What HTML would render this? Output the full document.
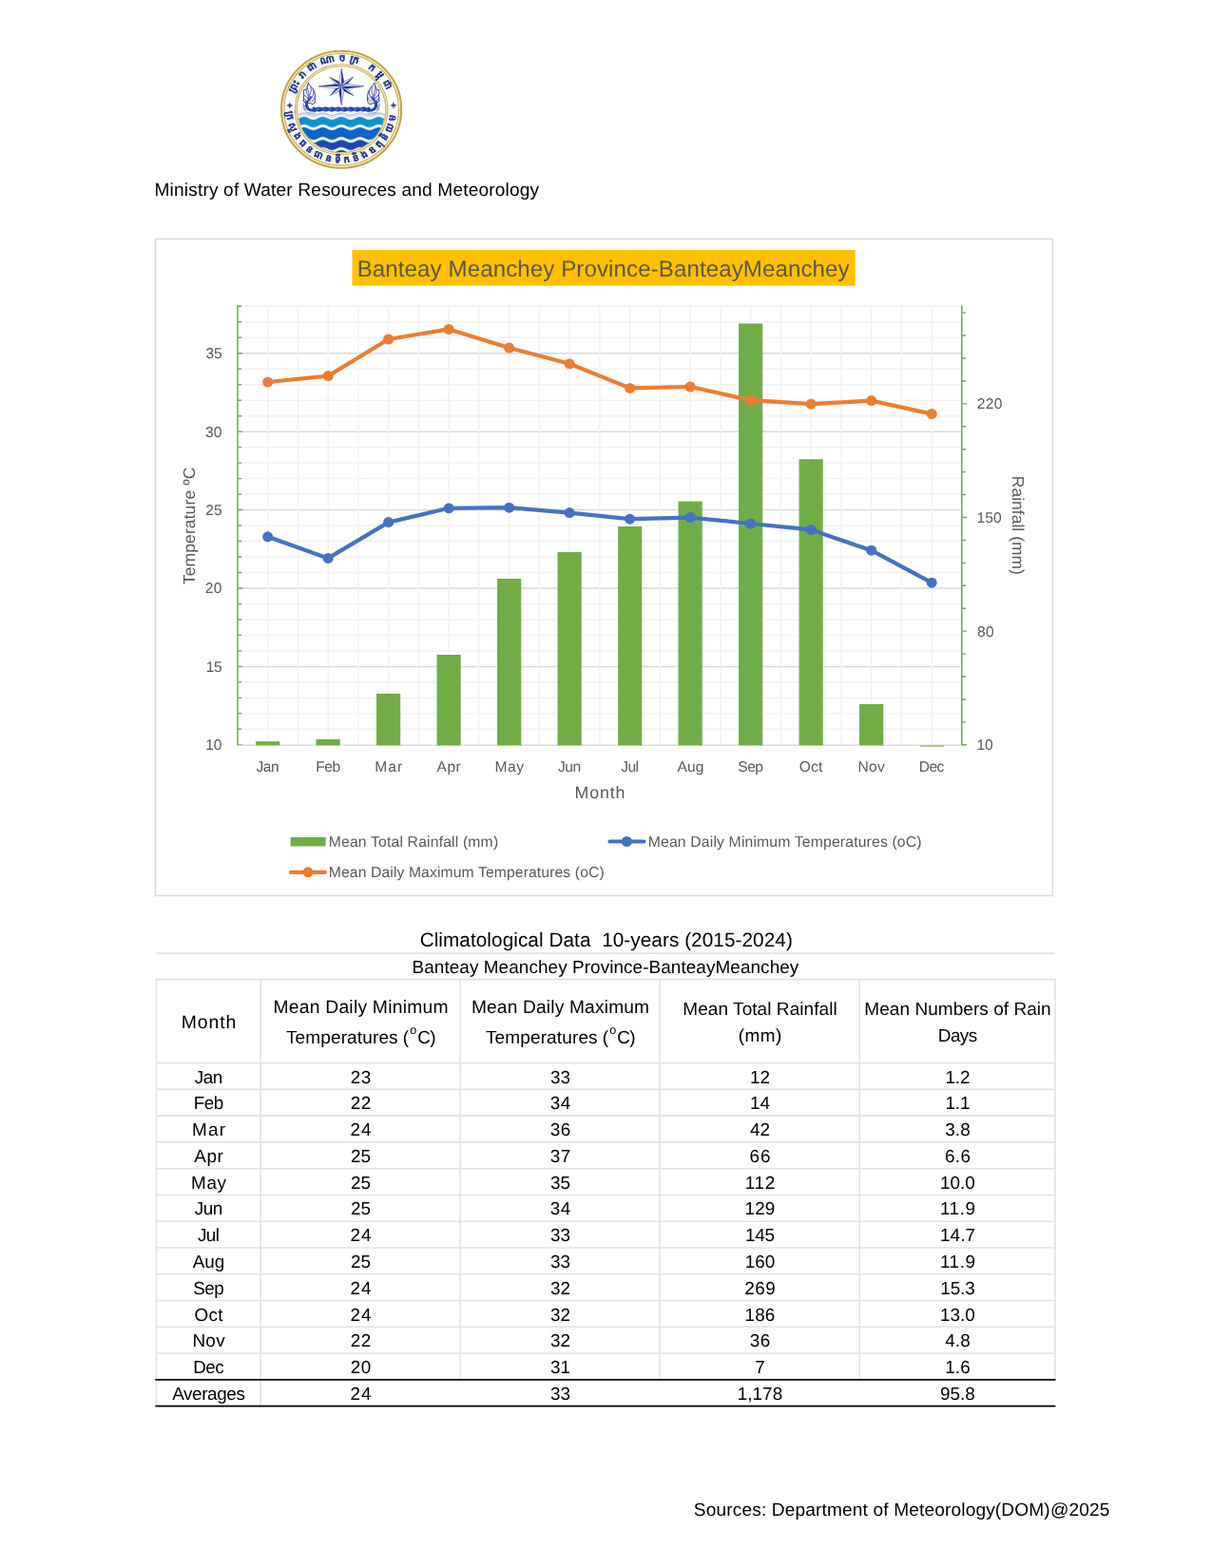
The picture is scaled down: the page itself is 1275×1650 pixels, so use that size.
<!DOCTYPE html>
<html lang="en">
<head>
<meta charset="utf-8">
<title>Climatological Data - Banteay Meanchey Province</title>
<style>
html,body{margin:0;padding:0;background:#fff;}
body{width:1275px;height:1650px;position:relative;overflow:hidden;font-family:"Liberation Sans", Arial, Helvetica, sans-serif;color:#000;text-rendering:geometricPrecision;}
.abs{position:absolute;white-space:nowrap;line-height:30px;height:30px;margin:0;font-weight:normal;}
svg{position:absolute;left:0;display:block;overflow:visible;}
svg.chart{top:230px;}
svg.grid{top:995px;}
svg text{font-family:"Liberation Sans", Arial, Helvetica, sans-serif;text-rendering:geometricPrecision;}
.tbl{position:absolute;left:164px;top:1031px;border-collapse:collapse;table-layout:fixed;width:946px;font-size:18.90px;}
.tbl th,.tbl td{padding:0 0 0 1px;margin:0;border:0;text-align:center;font-weight:normal;white-space:nowrap;vertical-align:top;}
.tbl td{line-height:27px;}
.tbl span{line-height:0;}
.tbl td span{position:relative;top:2px;}
.tbl th.h1{padding-top:32px;line-height:28px;}
.tbl th.h2{padding-top:18px;line-height:28px;}
.tbl th.h3{padding-top:14px;line-height:32px;}
.tbl .u{letter-spacing:-0.5px;margin-left:-0.3px;}
.tbl sup{font-size:12.5px;line-height:0;vertical-align:baseline;position:relative;top:-10.5px;letter-spacing:0;padding:0 0.9px 0 1.9px;}
</style>
</head>
<body>
<svg class="logo" width="150" height="150" viewBox="285 40 150 150" style="left:285px;top:40px" role="img" aria-label="Ministry of Water Resources and Meteorology emblem">
<defs>
<clipPath id="lgc"><circle cx="0" cy="0" r="44.9"/></clipPath>
<path id="lgt" d="M-50.97 -1.78A51.00 51.00 0 0 1 50.97 -1.78"/>
<path id="lgb" d="M-55.65 -7.82A56.20 56.20 0 1 0 55.65 -7.82"/>
</defs>
<g transform="translate(359.10 115.20) scale(1.026 1)">
<circle r="61.45" fill="#fff" stroke="#bfa548" stroke-width="2.1"/>
<circle r="59.7" fill="none" stroke="#f3e9a8" stroke-width="1.2"/>
<circle r="58.7" fill="none" stroke="#c5ad55" stroke-width="1.1"/>
<circle r="47.5" fill="none" stroke="#c5ad55" stroke-width="1.1"/>
<circle r="46.5" fill="none" stroke="#f3e9a8" stroke-width="0.9"/>
<circle r="45.5" fill="#fff" stroke="#c9b25c" stroke-width="1.1"/>
<g fill="#27368f" stroke="#2c3c98" stroke-width=".3" stroke-linejoin="round" font-family='"Noto Sans Khmer","Khmer","Noto Serif Khmer","Liberation Sans",sans-serif' font-size="9.7" font-weight="700">
<text letter-spacing="4.3"><textPath href="#lgt" startOffset="50%" text-anchor="middle">ព្រះរាជាណាចក្រ កម្ពុជា</textPath></text>
<text letter-spacing="3.8"><textPath href="#lgb" startOffset="50%" text-anchor="middle">ក្រសួងធនធានទឹកនិងឧតុនិយម</textPath></text>
</g>
<path d="M-53.80 -5.10l.8 -2.1 .8 2.1 2.100 .8 -2.100 .8 -.8 2.100 -.8 -2.100 -2.100 -.8z" fill="#27368f" stroke="#27368f" stroke-width=".5" stroke-linejoin="round"/>
<path d="M52.70 -5.10l.8 -2.1 .8 2.1 2.100 .8 -2.100 .8 -.8 2.100 -.8 -2.100 -2.100 -.8z" fill="#27368f" stroke="#27368f" stroke-width=".5" stroke-linejoin="round"/>
<g clip-path="url(#lgc)">
<path d="M-50.00 5.79 L-49.00 6.00 L-48.00 6.10 L-47.00 6.06 L-46.00 5.91 L-45.00 5.64 L-44.00 5.30 L-43.00 4.91 L-42.00 4.52 L-41.00 4.17 L-40.00 3.90 L-39.00 3.74 L-38.00 3.70 L-37.00 3.79 L-36.00 4.00 L-35.00 4.31 L-34.00 4.67 L-33.00 5.07 L-32.00 5.44 L-31.00 5.76 L-30.00 5.98 L-29.00 6.09 L-28.00 6.07 L-27.00 5.93 L-26.00 5.67 L-25.00 5.33 L-24.00 4.95 L-23.00 4.56 L-22.00 4.21 L-21.00 3.93 L-20.00 3.75 L-19.00 3.70 L-18.00 3.78 L-17.00 3.98 L-16.00 4.27 L-15.00 4.64 L-14.00 5.03 L-13.00 5.41 L-12.00 5.73 L-11.00 5.97 L-10.00 6.09 L-9.00 6.08 L-8.00 5.95 L-7.00 5.70 L-6.00 5.37 L-5.00 4.99 L-4.00 4.60 L-3.00 4.24 L-2.00 3.95 L-1.00 3.76 L0.00 3.70 L1.00 3.76 L2.00 3.95 L3.00 4.24 L4.00 4.60 L5.00 4.99 L6.00 5.37 L7.00 5.70 L8.00 5.95 L9.00 6.08 L10.00 6.09 L11.00 5.97 L12.00 5.73 L13.00 5.41 L14.00 5.03 L15.00 4.64 L16.00 4.27 L17.00 3.98 L18.00 3.78 L19.00 3.70 L20.00 3.75 L21.00 3.93 L22.00 4.21 L23.00 4.56 L24.00 4.95 L25.00 5.33 L26.00 5.67 L27.00 5.93 L28.00 6.07 L29.00 6.09 L30.00 5.98 L31.00 5.76 L32.00 5.44 L33.00 5.07 L34.00 4.67 L35.00 4.31 L36.00 4.00 L37.00 3.79 L38.00 3.70 L39.00 3.74 L40.00 3.90 L41.00 4.17 L42.00 4.52 L43.00 4.91 L44.00 5.30 L45.00 5.64 L46.00 5.91 L47.00 6.06 L48.00 6.10 L49.00 6.00 L50.00 5.79" fill="none" stroke="#6b7fb6" stroke-width="0.7"/>
<path d="M-50.00 7.59 L-49.00 7.80 L-48.00 7.90 L-47.00 7.86 L-46.00 7.71 L-45.00 7.44 L-44.00 7.10 L-43.00 6.71 L-42.00 6.32 L-41.00 5.97 L-40.00 5.70 L-39.00 5.54 L-38.00 5.50 L-37.00 5.59 L-36.00 5.80 L-35.00 6.11 L-34.00 6.47 L-33.00 6.87 L-32.00 7.24 L-31.00 7.56 L-30.00 7.78 L-29.00 7.89 L-28.00 7.87 L-27.00 7.73 L-26.00 7.47 L-25.00 7.13 L-24.00 6.75 L-23.00 6.36 L-22.00 6.01 L-21.00 5.73 L-20.00 5.55 L-19.00 5.50 L-18.00 5.58 L-17.00 5.78 L-16.00 6.07 L-15.00 6.44 L-14.00 6.83 L-13.00 7.21 L-12.00 7.53 L-11.00 7.77 L-10.00 7.89 L-9.00 7.88 L-8.00 7.75 L-7.00 7.50 L-6.00 7.17 L-5.00 6.79 L-4.00 6.40 L-3.00 6.04 L-2.00 5.75 L-1.00 5.56 L0.00 5.50 L1.00 5.56 L2.00 5.75 L3.00 6.04 L4.00 6.40 L5.00 6.79 L6.00 7.17 L7.00 7.50 L8.00 7.75 L9.00 7.88 L10.00 7.89 L11.00 7.77 L12.00 7.53 L13.00 7.21 L14.00 6.83 L15.00 6.44 L16.00 6.07 L17.00 5.78 L18.00 5.58 L19.00 5.50 L20.00 5.55 L21.00 5.73 L22.00 6.01 L23.00 6.36 L24.00 6.75 L25.00 7.13 L26.00 7.47 L27.00 7.73 L28.00 7.87 L29.00 7.89 L30.00 7.78 L31.00 7.56 L32.00 7.24 L33.00 6.87 L34.00 6.47 L35.00 6.11 L36.00 5.80 L37.00 5.59 L38.00 5.50 L39.00 5.54 L40.00 5.70 L41.00 5.97 L42.00 6.32 L43.00 6.71 L44.00 7.10 L45.00 7.44 L46.00 7.71 L47.00 7.86 L48.00 7.90 L49.00 7.80 L50.00 7.59" fill="none" stroke="#98a8d0" stroke-width="0.6"/>
<path d="M-50.00 10.11 L-49.00 10.37 L-48.00 10.49 L-47.00 10.45 L-46.00 10.26 L-45.00 9.93 L-44.00 9.50 L-43.00 9.01 L-42.00 8.53 L-41.00 8.09 L-40.00 7.76 L-39.00 7.55 L-38.00 7.50 L-37.00 7.62 L-36.00 7.88 L-35.00 8.26 L-34.00 8.72 L-33.00 9.21 L-32.00 9.68 L-31.00 10.07 L-30.00 10.35 L-29.00 10.49 L-28.00 10.47 L-27.00 10.28 L-26.00 9.97 L-25.00 9.54 L-24.00 9.06 L-23.00 8.57 L-22.00 8.13 L-21.00 7.78 L-20.00 7.57 L-19.00 7.50 L-18.00 7.60 L-17.00 7.84 L-16.00 8.21 L-15.00 8.67 L-14.00 9.16 L-13.00 9.63 L-12.00 10.04 L-11.00 10.33 L-10.00 10.48 L-9.00 10.48 L-8.00 10.31 L-7.00 10.00 L-6.00 9.59 L-5.00 9.11 L-4.00 8.62 L-3.00 8.17 L-2.00 7.81 L-1.00 7.58 L0.00 7.50 L1.00 7.58 L2.00 7.81 L3.00 8.17 L4.00 8.62 L5.00 9.11 L6.00 9.59 L7.00 10.00 L8.00 10.31 L9.00 10.48 L10.00 10.48 L11.00 10.33 L12.00 10.04 L13.00 9.63 L14.00 9.16 L15.00 8.67 L16.00 8.21 L17.00 7.84 L18.00 7.60 L19.00 7.50 L20.00 7.57 L21.00 7.78 L22.00 8.13 L23.00 8.57 L24.00 9.06 L25.00 9.54 L26.00 9.97 L27.00 10.28 L28.00 10.47 L29.00 10.49 L30.00 10.35 L31.00 10.07 L32.00 9.68 L33.00 9.21 L34.00 8.72 L35.00 8.26 L36.00 7.88 L37.00 7.62 L38.00 7.50 L39.00 7.55 L40.00 7.76 L41.00 8.09 L42.00 8.53 L43.00 9.01 L44.00 9.50 L45.00 9.93 L46.00 10.26 L47.00 10.45 L48.00 10.49 L49.00 10.37 L50.00 10.11 L50.00 18.61 L49.00 18.87 L48.00 18.99 L47.00 18.95 L46.00 18.76 L45.00 18.43 L44.00 18.00 L43.00 17.51 L42.00 17.03 L41.00 16.59 L40.00 16.26 L39.00 16.05 L38.00 16.00 L37.00 16.12 L36.00 16.38 L35.00 16.76 L34.00 17.22 L33.00 17.71 L32.00 18.18 L31.00 18.57 L30.00 18.85 L29.00 18.99 L28.00 18.97 L27.00 18.78 L26.00 18.47 L25.00 18.04 L24.00 17.56 L23.00 17.07 L22.00 16.63 L21.00 16.28 L20.00 16.07 L19.00 16.00 L18.00 16.10 L17.00 16.34 L16.00 16.71 L15.00 17.17 L14.00 17.66 L13.00 18.13 L12.00 18.54 L11.00 18.83 L10.00 18.98 L9.00 18.98 L8.00 18.81 L7.00 18.50 L6.00 18.09 L5.00 17.61 L4.00 17.12 L3.00 16.67 L2.00 16.31 L1.00 16.08 L0.00 16.00 L-1.00 16.08 L-2.00 16.31 L-3.00 16.67 L-4.00 17.12 L-5.00 17.61 L-6.00 18.09 L-7.00 18.50 L-8.00 18.81 L-9.00 18.98 L-10.00 18.98 L-11.00 18.83 L-12.00 18.54 L-13.00 18.13 L-14.00 17.66 L-15.00 17.17 L-16.00 16.71 L-17.00 16.34 L-18.00 16.10 L-19.00 16.00 L-20.00 16.07 L-21.00 16.28 L-22.00 16.63 L-23.00 17.07 L-24.00 17.56 L-25.00 18.04 L-26.00 18.47 L-27.00 18.78 L-28.00 18.97 L-29.00 18.99 L-30.00 18.85 L-31.00 18.57 L-32.00 18.18 L-33.00 17.71 L-34.00 17.22 L-35.00 16.76 L-36.00 16.38 L-37.00 16.12 L-38.00 16.00 L-39.00 16.05 L-40.00 16.26 L-41.00 16.59 L-42.00 17.03 L-43.00 17.51 L-44.00 18.00 L-45.00 18.43 L-46.00 18.76 L-47.00 18.95 L-48.00 18.99 L-49.00 18.87 L-50.00 18.61Z" fill="#128fd1" stroke="#c4ecfa" stroke-width=".7"/>
<path d="M-50.00 21.21 L-49.00 21.47 L-48.00 21.59 L-47.00 21.55 L-46.00 21.36 L-45.00 21.03 L-44.00 20.60 L-43.00 20.11 L-42.00 19.63 L-41.00 19.19 L-40.00 18.86 L-39.00 18.65 L-38.00 18.60 L-37.00 18.72 L-36.00 18.98 L-35.00 19.36 L-34.00 19.82 L-33.00 20.31 L-32.00 20.78 L-31.00 21.17 L-30.00 21.45 L-29.00 21.59 L-28.00 21.57 L-27.00 21.38 L-26.00 21.07 L-25.00 20.64 L-24.00 20.16 L-23.00 19.67 L-22.00 19.23 L-21.00 18.88 L-20.00 18.67 L-19.00 18.60 L-18.00 18.70 L-17.00 18.94 L-16.00 19.31 L-15.00 19.77 L-14.00 20.26 L-13.00 20.73 L-12.00 21.14 L-11.00 21.43 L-10.00 21.58 L-9.00 21.58 L-8.00 21.41 L-7.00 21.10 L-6.00 20.69 L-5.00 20.21 L-4.00 19.72 L-3.00 19.27 L-2.00 18.91 L-1.00 18.68 L0.00 18.60 L1.00 18.68 L2.00 18.91 L3.00 19.27 L4.00 19.72 L5.00 20.21 L6.00 20.69 L7.00 21.10 L8.00 21.41 L9.00 21.58 L10.00 21.58 L11.00 21.43 L12.00 21.14 L13.00 20.73 L14.00 20.26 L15.00 19.77 L16.00 19.31 L17.00 18.94 L18.00 18.70 L19.00 18.60 L20.00 18.67 L21.00 18.88 L22.00 19.23 L23.00 19.67 L24.00 20.16 L25.00 20.64 L26.00 21.07 L27.00 21.38 L28.00 21.57 L29.00 21.59 L30.00 21.45 L31.00 21.17 L32.00 20.78 L33.00 20.31 L34.00 19.82 L35.00 19.36 L36.00 18.98 L37.00 18.72 L38.00 18.60 L39.00 18.65 L40.00 18.86 L41.00 19.19 L42.00 19.63 L43.00 20.11 L44.00 20.60 L45.00 21.03 L46.00 21.36 L47.00 21.55 L48.00 21.59 L49.00 21.47 L50.00 21.21 L50.00 31.71 L49.00 31.97 L48.00 32.09 L47.00 32.05 L46.00 31.86 L45.00 31.53 L44.00 31.10 L43.00 30.61 L42.00 30.13 L41.00 29.69 L40.00 29.36 L39.00 29.15 L38.00 29.10 L37.00 29.22 L36.00 29.48 L35.00 29.86 L34.00 30.32 L33.00 30.81 L32.00 31.28 L31.00 31.67 L30.00 31.95 L29.00 32.09 L28.00 32.07 L27.00 31.88 L26.00 31.57 L25.00 31.14 L24.00 30.66 L23.00 30.17 L22.00 29.73 L21.00 29.38 L20.00 29.17 L19.00 29.10 L18.00 29.20 L17.00 29.44 L16.00 29.81 L15.00 30.27 L14.00 30.76 L13.00 31.23 L12.00 31.64 L11.00 31.93 L10.00 32.08 L9.00 32.08 L8.00 31.91 L7.00 31.60 L6.00 31.19 L5.00 30.71 L4.00 30.22 L3.00 29.77 L2.00 29.41 L1.00 29.18 L0.00 29.10 L-1.00 29.18 L-2.00 29.41 L-3.00 29.77 L-4.00 30.22 L-5.00 30.71 L-6.00 31.19 L-7.00 31.60 L-8.00 31.91 L-9.00 32.08 L-10.00 32.08 L-11.00 31.93 L-12.00 31.64 L-13.00 31.23 L-14.00 30.76 L-15.00 30.27 L-16.00 29.81 L-17.00 29.44 L-18.00 29.20 L-19.00 29.10 L-20.00 29.17 L-21.00 29.38 L-22.00 29.73 L-23.00 30.17 L-24.00 30.66 L-25.00 31.14 L-26.00 31.57 L-27.00 31.88 L-28.00 32.07 L-29.00 32.09 L-30.00 31.95 L-31.00 31.67 L-32.00 31.28 L-33.00 30.81 L-34.00 30.32 L-35.00 29.86 L-36.00 29.48 L-37.00 29.22 L-38.00 29.10 L-39.00 29.15 L-40.00 29.36 L-41.00 29.69 L-42.00 30.13 L-43.00 30.61 L-44.00 31.10 L-45.00 31.53 L-46.00 31.86 L-47.00 32.05 L-48.00 32.09 L-49.00 31.97 L-50.00 31.71Z" fill="#0e63c6" stroke="#c4ecfa" stroke-width=".7"/>
<path d="M-50.00 34.41 L-49.00 34.67 L-48.00 34.79 L-47.00 34.75 L-46.00 34.56 L-45.00 34.23 L-44.00 33.80 L-43.00 33.31 L-42.00 32.83 L-41.00 32.39 L-40.00 32.06 L-39.00 31.85 L-38.00 31.80 L-37.00 31.92 L-36.00 32.18 L-35.00 32.56 L-34.00 33.02 L-33.00 33.51 L-32.00 33.98 L-31.00 34.37 L-30.00 34.65 L-29.00 34.79 L-28.00 34.77 L-27.00 34.58 L-26.00 34.27 L-25.00 33.84 L-24.00 33.36 L-23.00 32.87 L-22.00 32.43 L-21.00 32.08 L-20.00 31.87 L-19.00 31.80 L-18.00 31.90 L-17.00 32.14 L-16.00 32.51 L-15.00 32.97 L-14.00 33.46 L-13.00 33.93 L-12.00 34.34 L-11.00 34.63 L-10.00 34.78 L-9.00 34.78 L-8.00 34.61 L-7.00 34.30 L-6.00 33.89 L-5.00 33.41 L-4.00 32.92 L-3.00 32.47 L-2.00 32.11 L-1.00 31.88 L0.00 31.80 L1.00 31.88 L2.00 32.11 L3.00 32.47 L4.00 32.92 L5.00 33.41 L6.00 33.89 L7.00 34.30 L8.00 34.61 L9.00 34.78 L10.00 34.78 L11.00 34.63 L12.00 34.34 L13.00 33.93 L14.00 33.46 L15.00 32.97 L16.00 32.51 L17.00 32.14 L18.00 31.90 L19.00 31.80 L20.00 31.87 L21.00 32.08 L22.00 32.43 L23.00 32.87 L24.00 33.36 L25.00 33.84 L26.00 34.27 L27.00 34.58 L28.00 34.77 L29.00 34.79 L30.00 34.65 L31.00 34.37 L32.00 33.98 L33.00 33.51 L34.00 33.02 L35.00 32.56 L36.00 32.18 L37.00 31.92 L38.00 31.80 L39.00 31.85 L40.00 32.06 L41.00 32.39 L42.00 32.83 L43.00 33.31 L44.00 33.80 L45.00 34.23 L46.00 34.56 L47.00 34.75 L48.00 34.79 L49.00 34.67 L50.00 34.41 L50.00 42.61 L49.00 42.87 L48.00 42.99 L47.00 42.95 L46.00 42.76 L45.00 42.43 L44.00 42.00 L43.00 41.51 L42.00 41.03 L41.00 40.59 L40.00 40.26 L39.00 40.05 L38.00 40.00 L37.00 40.12 L36.00 40.38 L35.00 40.76 L34.00 41.22 L33.00 41.71 L32.00 42.18 L31.00 42.57 L30.00 42.85 L29.00 42.99 L28.00 42.97 L27.00 42.78 L26.00 42.47 L25.00 42.04 L24.00 41.56 L23.00 41.07 L22.00 40.63 L21.00 40.28 L20.00 40.07 L19.00 40.00 L18.00 40.10 L17.00 40.34 L16.00 40.71 L15.00 41.17 L14.00 41.66 L13.00 42.13 L12.00 42.54 L11.00 42.83 L10.00 42.98 L9.00 42.98 L8.00 42.81 L7.00 42.50 L6.00 42.09 L5.00 41.61 L4.00 41.12 L3.00 40.67 L2.00 40.31 L1.00 40.08 L0.00 40.00 L-1.00 40.08 L-2.00 40.31 L-3.00 40.67 L-4.00 41.12 L-5.00 41.61 L-6.00 42.09 L-7.00 42.50 L-8.00 42.81 L-9.00 42.98 L-10.00 42.98 L-11.00 42.83 L-12.00 42.54 L-13.00 42.13 L-14.00 41.66 L-15.00 41.17 L-16.00 40.71 L-17.00 40.34 L-18.00 40.10 L-19.00 40.00 L-20.00 40.07 L-21.00 40.28 L-22.00 40.63 L-23.00 41.07 L-24.00 41.56 L-25.00 42.04 L-26.00 42.47 L-27.00 42.78 L-28.00 42.97 L-29.00 42.99 L-30.00 42.85 L-31.00 42.57 L-32.00 42.18 L-33.00 41.71 L-34.00 41.22 L-35.00 40.76 L-36.00 40.38 L-37.00 40.12 L-38.00 40.00 L-39.00 40.05 L-40.00 40.26 L-41.00 40.59 L-42.00 41.03 L-43.00 41.51 L-44.00 42.00 L-45.00 42.43 L-46.00 42.76 L-47.00 42.95 L-48.00 42.99 L-49.00 42.87 L-50.00 42.61Z" fill="#1a48b0" stroke="#c4ecfa" stroke-width=".7"/>
<path d="M-50.00 45.11 L-49.00 45.37 L-48.00 45.49 L-47.00 45.45 L-46.00 45.26 L-45.00 44.93 L-44.00 44.50 L-43.00 44.01 L-42.00 43.53 L-41.00 43.09 L-40.00 42.76 L-39.00 42.55 L-38.00 42.50 L-37.00 42.62 L-36.00 42.88 L-35.00 43.26 L-34.00 43.72 L-33.00 44.21 L-32.00 44.68 L-31.00 45.07 L-30.00 45.35 L-29.00 45.49 L-28.00 45.47 L-27.00 45.28 L-26.00 44.97 L-25.00 44.54 L-24.00 44.06 L-23.00 43.57 L-22.00 43.13 L-21.00 42.78 L-20.00 42.57 L-19.00 42.50 L-18.00 42.60 L-17.00 42.84 L-16.00 43.21 L-15.00 43.67 L-14.00 44.16 L-13.00 44.63 L-12.00 45.04 L-11.00 45.33 L-10.00 45.48 L-9.00 45.48 L-8.00 45.31 L-7.00 45.00 L-6.00 44.59 L-5.00 44.11 L-4.00 43.62 L-3.00 43.17 L-2.00 42.81 L-1.00 42.58 L0.00 42.50 L1.00 42.58 L2.00 42.81 L3.00 43.17 L4.00 43.62 L5.00 44.11 L6.00 44.59 L7.00 45.00 L8.00 45.31 L9.00 45.48 L10.00 45.48 L11.00 45.33 L12.00 45.04 L13.00 44.63 L14.00 44.16 L15.00 43.67 L16.00 43.21 L17.00 42.84 L18.00 42.60 L19.00 42.50 L20.00 42.57 L21.00 42.78 L22.00 43.13 L23.00 43.57 L24.00 44.06 L25.00 44.54 L26.00 44.97 L27.00 45.28 L28.00 45.47 L29.00 45.49 L30.00 45.35 L31.00 45.07 L32.00 44.68 L33.00 44.21 L34.00 43.72 L35.00 43.26 L36.00 42.88 L37.00 42.62 L38.00 42.50 L39.00 42.55 L40.00 42.76 L41.00 43.09 L42.00 43.53 L43.00 44.01 L44.00 44.50 L45.00 44.93 L46.00 45.26 L47.00 45.45 L48.00 45.49 L49.00 45.37 L50.00 45.11 L50.00 51.11 L49.00 51.37 L48.00 51.49 L47.00 51.45 L46.00 51.26 L45.00 50.93 L44.00 50.50 L43.00 50.01 L42.00 49.53 L41.00 49.09 L40.00 48.76 L39.00 48.55 L38.00 48.50 L37.00 48.62 L36.00 48.88 L35.00 49.26 L34.00 49.72 L33.00 50.21 L32.00 50.68 L31.00 51.07 L30.00 51.35 L29.00 51.49 L28.00 51.47 L27.00 51.28 L26.00 50.97 L25.00 50.54 L24.00 50.06 L23.00 49.57 L22.00 49.13 L21.00 48.78 L20.00 48.57 L19.00 48.50 L18.00 48.60 L17.00 48.84 L16.00 49.21 L15.00 49.67 L14.00 50.16 L13.00 50.63 L12.00 51.04 L11.00 51.33 L10.00 51.48 L9.00 51.48 L8.00 51.31 L7.00 51.00 L6.00 50.59 L5.00 50.11 L4.00 49.62 L3.00 49.17 L2.00 48.81 L1.00 48.58 L0.00 48.50 L-1.00 48.58 L-2.00 48.81 L-3.00 49.17 L-4.00 49.62 L-5.00 50.11 L-6.00 50.59 L-7.00 51.00 L-8.00 51.31 L-9.00 51.48 L-10.00 51.48 L-11.00 51.33 L-12.00 51.04 L-13.00 50.63 L-14.00 50.16 L-15.00 49.67 L-16.00 49.21 L-17.00 48.84 L-18.00 48.60 L-19.00 48.50 L-20.00 48.57 L-21.00 48.78 L-22.00 49.13 L-23.00 49.57 L-24.00 50.06 L-25.00 50.54 L-26.00 50.97 L-27.00 51.28 L-28.00 51.47 L-29.00 51.49 L-30.00 51.35 L-31.00 51.07 L-32.00 50.68 L-33.00 50.21 L-34.00 49.72 L-35.00 49.26 L-36.00 48.88 L-37.00 48.62 L-38.00 48.50 L-39.00 48.55 L-40.00 48.76 L-41.00 49.09 L-42.00 49.53 L-43.00 50.01 L-44.00 50.50 L-45.00 50.93 L-46.00 51.26 L-47.00 51.45 L-48.00 51.49 L-49.00 51.37 L-50.00 51.11Z" fill="#173b9e" stroke="#c4ecfa" stroke-width=".7"/>
</g>
<g><path d="M0.10 -24.40L-5.44 -26.11L-12.10 -34.00L-2.87 -29.38Z" fill="#e3e9f8" stroke="#1e2f8f" stroke-width=".45" stroke-linejoin="round"/><path d="M0.10 -24.40L-2.87 -29.38L-12.10 -34.00Z" fill="#1e2f8f"/><path d="M0.10 -24.40L2.99 -29.43L12.30 -34.30L5.61 -26.20Z" fill="#e3e9f8" stroke="#1e2f8f" stroke-width=".45" stroke-linejoin="round"/><path d="M0.10 -24.40L5.61 -26.20L12.30 -34.30Z" fill="#1e2f8f"/><path d="M0.10 -24.40L5.63 -22.65L12.50 -14.50L3.03 -19.40Z" fill="#e3e9f8" stroke="#1e2f8f" stroke-width=".45" stroke-linejoin="round"/><path d="M0.10 -24.40L3.03 -19.40L12.50 -14.50Z" fill="#1e2f8f"/><path d="M0.10 -24.40L-2.64 -19.29L-11.50 -14.40L-5.36 -22.44Z" fill="#e3e9f8" stroke="#1e2f8f" stroke-width=".45" stroke-linejoin="round"/><path d="M0.10 -24.40L-5.36 -22.44L-11.50 -14.40Z" fill="#1e2f8f"/><path d="M0.10 -24.40L5.13 -26.85L23.10 -24.40L5.13 -21.95Z" fill="#e3e9f8" stroke="#1e2f8f" stroke-width=".45" stroke-linejoin="round"/><path d="M0.10 -24.40L5.13 -21.95L23.10 -24.40Z" fill="#1e2f8f"/><path d="M0.10 -24.40L-4.91 -21.90L-23.50 -24.20L-4.95 -26.81Z" fill="#e3e9f8" stroke="#1e2f8f" stroke-width=".45" stroke-linejoin="round"/><path d="M0.10 -24.40L-4.95 -26.81L-23.50 -24.20Z" fill="#1e2f8f"/><path d="M0.10 -24.40L-2.35 -29.43L0.10 -43.00L2.55 -29.43Z" fill="#e3e9f8" stroke="#1e2f8f" stroke-width=".45" stroke-linejoin="round"/><path d="M0.10 -24.40L2.55 -29.43L0.10 -43.00Z" fill="#1e2f8f"/><path d="M0.10 -24.40L2.58 -19.38L0.20 -4.50L-2.33 -19.35Z" fill="#e3e9f8" stroke="#1e2f8f" stroke-width=".45" stroke-linejoin="round"/><path d="M0.10 -24.40L-2.33 -19.35L0.20 -4.50Z" fill="#1e2f8f"/><circle cx="0.10" cy="-24.40" r="1.1" fill="#8f9fd8"/></g>
<g fill="none" stroke="#27368f" stroke-linecap="round" stroke-linejoin="round"><path d="M-38.800 -8.800c-.3 -2.300 .2 -4.400 .4 -6.500l-.4 -2.600l.3 -3l1.900 .2c.9 -1.400 1.400 -2.700 1.700 -3.900c.5 -1.200 .9 -2.300 1.100 -3.400c.7 1.500 1.400 2.400 2.300 3.300c1.200 1.400 2.300 2.700 3 4.400c1 1.800 1.500 3.700 1.700 5.800c.2 2 .2 4 -.1 5.800c-.3 1.300 -.9 2.300 -1.700 3z" stroke-width=".95" fill="#f1f0fb"/><path d="M-33.800 -27.700c-1 2.400 -1.300 4.500 -.7 6.700c.6 2.300 1.600 4.200 1.200 6.800M-36.100 -21.200c-.2 2.200 .5 4 1.500 5.700c.9 1.600 1.300 3.300 .8 5.200M-31.500 -24c.7 2.300 .7 4.400 0 6.300c-.7 1.900 -1.700 3.500 -2.100 5.500M-28.500 -19.500c.3 2.500 -.3 4.600 -1.500 6.400c-1 1.600 -2 2.900 -2.600 4.500M-26.900 -13.500c-.6 2.300 -1.800 4 -3.400 5.300" stroke-width=".9" stroke="#5a4fc0"/><path d="M-38.600 -12l4.200 4.600M-38.900 -9.200l3 3.300M-37.800 -15.200l4.300 4.800M-38.500 -4.500l2.200 2.600M-38.300 -1.800l1.800 2.100" stroke-width=".9" stroke="#2b44b0"/><path d="M-31.3 -13.1c-1.7 3 -4.6 4.8 -4.5 7.8" stroke-width="1.9" stroke="#2446b0"/><path d="M-35.6 -7.5c-.3 3.4 .2 5.6 1.7 6.9c2 1.6 4.5 1.7 7.3 1.5" stroke-width="3.1" stroke="#2446b0"/><path d="M-38.900 -6.500c-.5 3.200 .2 6.300 2.200 8.300c1.400 1.300 3.200 1.900 5.200 2.100l4.500 .2" stroke-width=".7" stroke="#5a678f"/></g>
<g transform="scale(-1 1)"><g fill="none" stroke="#27368f" stroke-linecap="round" stroke-linejoin="round"><path d="M-38.800 -8.800c-.3 -2.300 .2 -4.400 .4 -6.500l-.4 -2.600l.3 -3l1.900 .2c.9 -1.400 1.400 -2.700 1.700 -3.900c.5 -1.200 .9 -2.300 1.100 -3.400c.7 1.500 1.400 2.400 2.300 3.300c1.200 1.400 2.300 2.700 3 4.400c1 1.800 1.500 3.700 1.700 5.800c.2 2 .2 4 -.1 5.800c-.3 1.300 -.9 2.300 -1.700 3z" stroke-width=".95" fill="#f1f0fb"/><path d="M-33.800 -27.700c-1 2.400 -1.300 4.500 -.7 6.700c.6 2.300 1.600 4.200 1.200 6.800M-36.100 -21.200c-.2 2.200 .5 4 1.500 5.700c.9 1.600 1.300 3.300 .8 5.200M-31.500 -24c.7 2.300 .7 4.400 0 6.300c-.7 1.900 -1.700 3.500 -2.100 5.500M-28.500 -19.500c.3 2.500 -.3 4.600 -1.500 6.400c-1 1.600 -2 2.900 -2.600 4.500M-26.900 -13.500c-.6 2.300 -1.800 4 -3.400 5.300" stroke-width=".9" stroke="#5a4fc0"/><path d="M-38.600 -12l4.200 4.600M-38.900 -9.200l3 3.300M-37.800 -15.200l4.300 4.800M-38.500 -4.500l2.200 2.600M-38.300 -1.800l1.800 2.100" stroke-width=".9" stroke="#2b44b0"/><path d="M-31.3 -13.1c-1.7 3 -4.6 4.8 -4.5 7.8" stroke-width="1.9" stroke="#2446b0"/><path d="M-35.6 -7.5c-.3 3.4 .2 5.6 1.7 6.9c2 1.6 4.5 1.7 7.3 1.5" stroke-width="3.1" stroke="#2446b0"/><path d="M-38.900 -6.500c-.5 3.200 .2 6.300 2.200 8.300c1.400 1.300 3.200 1.900 5.200 2.100l4.500 .2" stroke-width=".7" stroke="#5a678f"/></g></g>
<path d="M-28.50 -1.32 L-28.00 -1.19 L-27.50 -1.00 L-27.00 -0.76 L-26.50 -0.49 L-26.00 -0.20 L-25.50 0.09 L-25.00 0.36 L-24.50 0.60 L-24.00 0.79 L-23.50 0.92 L-23.00 0.99 L-22.50 0.99 L-22.00 0.92 L-21.50 0.79 L-21.00 0.60 L-20.50 0.36 L-20.00 0.09 L-19.50 -0.20 L-19.00 -0.49 L-18.50 -0.76 L-18.00 -1.00 L-17.50 -1.19 L-17.00 -1.32 L-16.50 -1.39 L-16.00 -1.39 L-15.50 -1.32 L-15.00 -1.19 L-14.50 -1.00 L-14.00 -0.76 L-13.50 -0.49 L-13.00 -0.20 L-12.50 0.09 L-12.00 0.36 L-11.50 0.60 L-11.00 0.79 L-10.50 0.92 L-10.00 0.99 L-9.50 0.99 L-9.00 0.92 L-8.50 0.79 L-8.00 0.60 L-7.50 0.36 L-7.00 0.09 L-6.50 -0.20 L-6.00 -0.49 L-5.50 -0.76 L-5.00 -1.00 L-4.50 -1.19 L-4.00 -1.32 L-3.50 -1.39 L-3.00 -1.39 L-2.50 -1.32 L-2.00 -1.19 L-1.50 -1.00 L-1.00 -0.76 L-0.50 -0.49 L0.00 -0.20 L0.50 0.09 L1.00 0.36 L1.50 0.60 L2.00 0.79 L2.50 0.92 L3.00 0.99 L3.50 0.99 L4.00 0.92 L4.50 0.79 L5.00 0.60 L5.50 0.36 L6.00 0.09 L6.50 -0.20 L7.00 -0.49 L7.50 -0.76 L8.00 -1.00 L8.50 -1.19 L9.00 -1.32 L9.50 -1.39 L10.00 -1.39 L10.50 -1.32 L11.00 -1.19 L11.50 -1.00 L12.00 -0.76 L12.50 -0.49 L13.00 -0.20 L13.50 0.09 L14.00 0.36 L14.50 0.60 L15.00 0.79 L15.50 0.92 L16.00 0.99 L16.50 0.99 L17.00 0.92 L17.50 0.79 L18.00 0.60 L18.50 0.36 L19.00 0.09 L19.50 -0.20 L20.00 -0.49 L20.50 -0.76 L21.00 -1.00 L21.50 -1.19 L22.00 -1.32 L22.50 -1.39 L23.00 -1.39 L23.50 -1.32 L24.00 -1.19 L24.50 -1.00 L25.00 -0.76 L25.50 -0.49 L26.00 -0.20 L26.50 0.09 L27.00 0.36 L27.50 0.60 L28.00 0.79 L28.50 0.92" fill="none" stroke="#1f3fa6" stroke-width="2.6" stroke-linecap="round"/>
<path d="M-28.50 0.92 L-28.00 0.79 L-27.50 0.60 L-27.00 0.36 L-26.50 0.09 L-26.00 -0.20 L-25.50 -0.49 L-25.00 -0.76 L-24.50 -1.00 L-24.00 -1.19 L-23.50 -1.32 L-23.00 -1.39 L-22.50 -1.39 L-22.00 -1.32 L-21.50 -1.19 L-21.00 -1.00 L-20.50 -0.76 L-20.00 -0.49 L-19.50 -0.20 L-19.00 0.09 L-18.50 0.36 L-18.00 0.60 L-17.50 0.79 L-17.00 0.92 L-16.50 0.99 L-16.00 0.99 L-15.50 0.92 L-15.00 0.79 L-14.50 0.60 L-14.00 0.36 L-13.50 0.09 L-13.00 -0.20 L-12.50 -0.49 L-12.00 -0.76 L-11.50 -1.00 L-11.00 -1.19 L-10.50 -1.32 L-10.00 -1.39 L-9.50 -1.39 L-9.00 -1.32 L-8.50 -1.19 L-8.00 -1.00 L-7.50 -0.76 L-7.00 -0.49 L-6.50 -0.20 L-6.00 0.09 L-5.50 0.36 L-5.00 0.60 L-4.50 0.79 L-4.00 0.92 L-3.50 0.99 L-3.00 0.99 L-2.50 0.92 L-2.00 0.79 L-1.50 0.60 L-1.00 0.36 L-0.50 0.09 L0.00 -0.20 L0.50 -0.49 L1.00 -0.76 L1.50 -1.00 L2.00 -1.19 L2.50 -1.32 L3.00 -1.39 L3.50 -1.39 L4.00 -1.32 L4.50 -1.19 L5.00 -1.00 L5.50 -0.76 L6.00 -0.49 L6.50 -0.20 L7.00 0.09 L7.50 0.36 L8.00 0.60 L8.50 0.79 L9.00 0.92 L9.50 0.99 L10.00 0.99 L10.50 0.92 L11.00 0.79 L11.50 0.60 L12.00 0.36 L12.50 0.09 L13.00 -0.20 L13.50 -0.49 L14.00 -0.76 L14.50 -1.00 L15.00 -1.19 L15.50 -1.32 L16.00 -1.39 L16.50 -1.39 L17.00 -1.32 L17.50 -1.19 L18.00 -1.00 L18.50 -0.76 L19.00 -0.49 L19.50 -0.20 L20.00 0.09 L20.50 0.36 L21.00 0.60 L21.50 0.79 L22.00 0.92 L22.50 0.99 L23.00 0.99 L23.50 0.92 L24.00 0.79 L24.50 0.60 L25.00 0.36 L25.50 0.09 L26.00 -0.20 L26.50 -0.49 L27.00 -0.76 L27.50 -1.00 L28.00 -1.19 L28.50 -1.32" fill="none" stroke="#234ab4" stroke-width="2.4" stroke-linecap="round"/>
<path d="M-25.500 -.2H27" fill="none" stroke="#a9bdf0" stroke-width=".7" stroke-dasharray="2.5 4"/>
</g>
</svg>
<header class="abs hd" style="left:162.50px;top:186.00px;font-size:19.14px;letter-spacing:0.156px;">Ministry of Water Resoureces and Meteorology</header>
<main>
<svg class="chart" width="1275" height="740" viewBox="0 230 1275 740">
<rect x="163.5" y="251.4" width="943.7" height="691" fill="#fff" stroke="#d9d9d9" stroke-width="1.6"/>
<rect x="370.5" y="263" width="529.3" height="37.7" fill="#ffc000"/>
<text x="375.71" y="290.80" font-size="24.14" letter-spacing="0.073" fill="#5a5848">Banteay Meanchey Province-BanteayMeanchey</text>
<path d="M249.90 767.32H1011.90M249.90 750.84H1011.90M249.90 734.35H1011.90M249.90 717.87H1011.90M249.90 684.91H1011.90M249.90 668.42H1011.90M249.90 651.94H1011.90M249.90 635.46H1011.90M249.90 602.50H1011.90M249.90 586.01H1011.90M249.90 569.53H1011.90M249.90 553.05H1011.90M249.90 520.09H1011.90M249.90 503.60H1011.90M249.90 487.12H1011.90M249.90 470.64H1011.90M249.90 437.68H1011.90M249.90 421.19H1011.90M249.90 404.71H1011.90M249.90 388.23H1011.90M249.90 355.26H1011.90M249.90 338.78H1011.90M249.90 322.30H1011.90" stroke="#f2f2f2" stroke-width="1.5" fill="none"/>
<path d="M249.90 701.39H1011.90M249.90 618.98H1011.90M249.90 536.57H1011.90M249.90 454.16H1011.90M249.90 371.75H1011.90" stroke="#d9d9d9" stroke-width="1.5" fill="none"/>
<path d="M281.65 322.30V783.80M313.40 322.30V783.80M345.15 322.30V783.80M376.90 322.30V783.80M408.65 322.30V783.80M440.40 322.30V783.80M472.15 322.30V783.80M503.90 322.30V783.80M535.65 322.30V783.80M567.40 322.30V783.80M599.15 322.30V783.80M630.90 322.30V783.80M662.65 322.30V783.80M694.40 322.30V783.80M726.15 322.30V783.80M757.90 322.30V783.80M789.65 322.30V783.80M821.40 322.30V783.80M853.15 322.30V783.80M884.90 322.30V783.80M916.65 322.30V783.80M948.40 322.30V783.80M980.15 322.30V783.80" stroke="#f2f2f2" stroke-width="1.5" fill="none"/>
<path d="M250.00 321.60V784.50" stroke="#70ad47" stroke-width="1.55" fill="none"/>
<path d="M249.90 783.80h5.20M249.90 767.32h4.20M249.90 750.84h4.20M249.90 734.35h4.20M249.90 717.87h4.20M249.90 701.39h5.20M249.90 684.91h4.20M249.90 668.42h4.20M249.90 651.94h4.20M249.90 635.46h4.20M249.90 618.98h5.20M249.90 602.50h4.20M249.90 586.01h4.20M249.90 569.53h4.20M249.90 553.05h4.20M249.90 536.57h5.20M249.90 520.09h4.20M249.90 503.60h4.20M249.90 487.12h4.20M249.90 470.64h4.20M249.90 454.16h5.20M249.90 437.68h4.20M249.90 421.19h4.20M249.90 404.71h4.20M249.90 388.23h4.20M249.90 371.75h5.20M249.90 355.26h4.20M249.90 338.78h4.20M249.90 322.30h4.20" stroke="#70ad47" stroke-width="1.4" fill="none"/>
<path d="M1011.80 321.60V784.50" stroke="#70ad47" stroke-width="1.55" fill="none"/>
<path d="M1011.90 783.80h5.20M1011.90 759.87h4.20M1011.90 735.94h4.20M1011.90 712.01h4.20M1011.90 688.08h4.20M1011.90 664.15h5.20M1011.90 640.22h4.20M1011.90 616.29h4.20M1011.90 592.36h4.20M1011.90 568.43h4.20M1011.90 544.50h5.20M1011.90 520.57h4.20M1011.90 496.64h4.20M1011.90 472.71h4.20M1011.90 448.79h4.20M1011.90 424.86h5.20M1011.90 400.93h4.20M1011.90 377.00h4.20M1011.90 353.07h4.20M1011.90 329.14h4.20" stroke="#70ad47" stroke-width="1.4" fill="none"/>
<path d="M250.80 784.20H1011.00" stroke="#d9d9d9" stroke-width="1.5" fill="none"/>
<rect x="269.05" y="780.20" width="25.20" height="4.10" fill="#70ad47"/>
<rect x="332.55" y="778.00" width="25.20" height="6.30" fill="#70ad47"/>
<rect x="396.05" y="730.00" width="25.20" height="54.30" fill="#70ad47"/>
<rect x="459.55" y="689.00" width="25.20" height="95.30" fill="#70ad47"/>
<rect x="523.05" y="609.00" width="25.20" height="175.30" fill="#70ad47"/>
<rect x="586.55" y="581.00" width="25.20" height="203.30" fill="#70ad47"/>
<rect x="650.05" y="554.00" width="25.20" height="230.30" fill="#70ad47"/>
<rect x="713.55" y="527.60" width="25.20" height="256.70" fill="#70ad47"/>
<rect x="777.05" y="340.40" width="25.20" height="443.90" fill="#70ad47"/>
<rect x="840.55" y="483.20" width="25.20" height="301.10" fill="#70ad47"/>
<rect x="904.05" y="740.90" width="25.20" height="43.40" fill="#70ad47"/>
<rect x="967.55" y="784.60" width="25.20" height="1.00" fill="#70ad47"/>
<polyline points="281.65,564.80 345.15,587.40 408.65,549.60 472.15,534.80 535.65,534.20 599.15,539.60 662.65,546.20 726.15,544.60 789.65,551.00 853.15,557.40 916.65,579.20 980.15,613.20" fill="none" stroke="#4472c4" stroke-width="4.2" stroke-linejoin="round" stroke-linecap="round"/>
<circle cx="281.65" cy="564.80" r="5.5" fill="#4472c4"/>
<circle cx="345.15" cy="587.40" r="5.5" fill="#4472c4"/>
<circle cx="408.65" cy="549.60" r="5.5" fill="#4472c4"/>
<circle cx="472.15" cy="534.80" r="5.5" fill="#4472c4"/>
<circle cx="535.65" cy="534.20" r="5.5" fill="#4472c4"/>
<circle cx="599.15" cy="539.60" r="5.5" fill="#4472c4"/>
<circle cx="662.65" cy="546.20" r="5.5" fill="#4472c4"/>
<circle cx="726.15" cy="544.60" r="5.5" fill="#4472c4"/>
<circle cx="789.65" cy="551.00" r="5.5" fill="#4472c4"/>
<circle cx="853.15" cy="557.40" r="5.5" fill="#4472c4"/>
<circle cx="916.65" cy="579.20" r="5.5" fill="#4472c4"/>
<circle cx="980.15" cy="613.20" r="5.5" fill="#4472c4"/>
<polyline points="281.65,402.00 345.15,395.60 408.65,357.00 472.15,346.40 535.65,366.00 599.15,382.80 662.65,408.40 726.15,407.00 789.65,421.20 853.15,425.20 916.65,421.60 980.15,435.60" fill="none" stroke="#ed7d31" stroke-width="4.2" stroke-linejoin="round" stroke-linecap="round"/>
<circle cx="281.65" cy="402.00" r="5.5" fill="#ed7d31"/>
<circle cx="345.15" cy="395.60" r="5.5" fill="#ed7d31"/>
<circle cx="408.65" cy="357.00" r="5.5" fill="#ed7d31"/>
<circle cx="472.15" cy="346.40" r="5.5" fill="#ed7d31"/>
<circle cx="535.65" cy="366.00" r="5.5" fill="#ed7d31"/>
<circle cx="599.15" cy="382.80" r="5.5" fill="#ed7d31"/>
<circle cx="662.65" cy="408.40" r="5.5" fill="#ed7d31"/>
<circle cx="726.15" cy="407.00" r="5.5" fill="#ed7d31"/>
<circle cx="789.65" cy="421.20" r="5.5" fill="#ed7d31"/>
<circle cx="853.15" cy="425.20" r="5.5" fill="#ed7d31"/>
<circle cx="916.65" cy="421.60" r="5.5" fill="#ed7d31"/>
<circle cx="980.15" cy="435.60" r="5.5" fill="#ed7d31"/>
<g class="labels">
<text x="216.20" y="789.20" font-size="15.60" letter-spacing="-0.165" fill="#595959">10</text>
<text x="216.74" y="706.79" font-size="15.60" letter-spacing="-0.463" fill="#595959">15</text>
<text x="215.63" y="624.38" font-size="15.60" letter-spacing="0.404" fill="#595959">20</text>
<text x="216.17" y="541.97" font-size="15.60" letter-spacing="0.106" fill="#595959">25</text>
<text x="215.88" y="459.56" font-size="15.60" letter-spacing="0.160" fill="#595959">30</text>
<text x="216.42" y="377.15" font-size="15.60" letter-spacing="-0.138" fill="#595959">35</text>
<text x="1027.62" y="789.20" font-size="15.60" letter-spacing="-0.165" fill="#595959">10</text>
<text x="1028.11" y="669.55" font-size="15.60" letter-spacing="0.160" fill="#595959">80</text>
<text x="1027.62" y="549.90" font-size="15.60" letter-spacing="-0.029" fill="#595959">150</text>
<text x="1027.87" y="430.26" font-size="15.60" letter-spacing="0.256" fill="#595959">220</text>
<text x="269.58" y="812.00" font-size="15.60" letter-spacing="-0.550" fill="#595959">Jan</text>
<text x="332.29" y="812.00" font-size="15.60" letter-spacing="-0.550" fill="#595959">Feb</text>
<text x="394.21" y="812.00" font-size="15.60" letter-spacing="1.075" fill="#595959">Mar</text>
<text x="459.56" y="812.00" font-size="15.60" letter-spacing="0.445" fill="#595959">Apr</text>
<text x="520.46" y="812.00" font-size="15.60" letter-spacing="0.521" fill="#595959">May</text>
<text x="587.08" y="812.00" font-size="15.60" letter-spacing="-0.550" fill="#595959">Jun</text>
<text x="653.26" y="812.00" font-size="15.60" letter-spacing="-0.550" fill="#595959">Jul</text>
<text x="712.51" y="812.00" font-size="15.60" letter-spacing="0.052" fill="#595959">Aug</text>
<text x="776.31" y="812.00" font-size="15.60" letter-spacing="-0.550" fill="#595959">Sep</text>
<text x="840.66" y="812.00" font-size="15.60" letter-spacing="0.178" fill="#595959">Oct</text>
<text x="902.48" y="812.00" font-size="15.60" letter-spacing="0.248" fill="#595959">Nov</text>
<text x="966.71" y="812.00" font-size="15.60" letter-spacing="-0.519" fill="#595959">Dec</text>
<text x="604.56" y="840.00" font-size="17.81" letter-spacing="0.851" fill="#595959">Month</text>
<text x="143.62" y="553.40" font-size="17.52" letter-spacing="0.099" fill="#595959" transform="rotate(-90 205.40 553.40)">Temperature ºC</text>
<text x="1012.63" y="553.20" font-size="17.42" letter-spacing="0.050" fill="#595959" transform="rotate(90 1065.00 553.20)">Rainfall (mm)</text>
</g>
<g class="legend">
<rect x="305.6" y="881" width="37" height="9.5" fill="#70ad47"/>
<text x="345.77" y="891.00" font-size="15.72" letter-spacing="0.171" fill="#595959">Mean Total Rainfall (mm)</text>
<path d="M641.5 885.5H677.5" stroke="#4472c4" stroke-width="4.2" stroke-linecap="round"/><circle cx="659.4" cy="885.5" r="5.5" fill="#4472c4"/>
<text x="681.77" y="891.00" font-size="15.75" letter-spacing="0.153" fill="#595959">Mean Daily Minimum Temperatures (oC)</text>
<path d="M306 917.8H342" stroke="#ed7d31" stroke-width="4.2" stroke-linecap="round"/><circle cx="324" cy="917.8" r="5.5" fill="#ed7d31"/>
<text x="345.77" y="922.80" font-size="15.70" letter-spacing="0.122" fill="#595959">Mean Daily Maximum Temperatures (oC)</text>
</g>
</svg>
<h1 class="abs t1" style="left:441.63px;top:975.00px;font-size:20.78px;letter-spacing:0.051px;">Climatological Data&nbsp; 10-years (2015-2024)</h1>
<h2 class="abs t2" style="left:433.52px;top:1004.00px;font-size:18.95px;letter-spacing:0.064px;">Banteay Meanchey Province-BanteayMeanchey</h2>
<svg class="grid" width="1275" height="500" viewBox="0 995 1275 500">
<path d="M164 1003.1H1109.9M163.60 1030.60H1110.80M163.60 1118.60H1110.80M163.60 1146.37H1110.80M163.60 1174.14H1110.80M163.60 1201.91H1110.80M163.60 1229.68H1110.80M163.60 1257.45H1110.80M163.60 1285.22H1110.80M163.60 1312.99H1110.80M163.60 1340.76H1110.80M163.60 1368.53H1110.80M163.60 1396.30H1110.80M163.60 1424.07H1110.80M164.40 1030.60V1479.61M274.20 1030.60V1479.61M484.20 1030.60V1451.84M694.00 1030.60V1451.84M904.20 1030.60V1451.84M1110.00 1030.60V1451.84" stroke="#e2e2e2" stroke-width="1.6" fill="none"/>
<path d="M163.4 1451.84H1110.4M163.4 1479.61H1110.4" stroke="#000" stroke-width="1.7" fill="none"/>
</svg>
<table class="tbl"><colgroup>
<col style="width:110px">
<col style="width:210px">
<col style="width:210px">
<col style="width:210px">
<col style="width:206px">
</colgroup>
<thead><tr style="height:88px">
<th class="h1"><span style="font-size:19.43px;letter-spacing:0.928px;margin-right:-0.928px">Month</span></th>
<th class="h3"><span style="font-size:19.32px;letter-spacing:0.224px;margin-right:-0.224px">Mean Daily Minimum</span><br><span style="font-size:19.09px;letter-spacing:0.102px;margin-right:-0.102px">Temperatures</span> <span class="u">(<sup>o</sup>C)</span></th>
<th class="h3"><span style="font-size:19.19px;letter-spacing:0.163px;margin-right:-0.163px">Mean Daily Maximum</span><br><span style="font-size:19.09px;letter-spacing:0.102px;margin-right:-0.102px">Temperatures</span> <span class="u">(<sup>o</sup>C)</span></th>
<th class="h2"><span style="font-size:19.03px;letter-spacing:0.057px;margin-right:-0.057px">Mean Total Rainfall</span><br><span style="letter-spacing:0.439px;margin-right:-0.439px">(mm)</span></th>
<th class="h2"><span style="font-size:19.00px;letter-spacing:0.048px;margin-right:-0.048px">Mean Numbers of Rain</span><br><span style="letter-spacing:-0.550px;margin-right:0.550px">Days</span></th>
</tr></thead><tbody>
<tr style="height:27px"><td><span style="letter-spacing:-0.550px;margin-right:0.550px">Jan</span></td><td><span style="letter-spacing:0.460px;margin-right:-0.460px">23</span></td><td><span style="letter-spacing:0.165px;margin-right:-0.165px">33</span></td><td><span style="letter-spacing:-0.229px;margin-right:0.229px">12</span></td><td><span style="letter-spacing:-0.089px;margin-right:0.089px">1.2</span></td></tr>
<tr style="height:28px"><td><span style="letter-spacing:-0.550px;margin-right:0.550px">Feb</span></td><td><span style="letter-spacing:0.460px;margin-right:-0.460px">22</span></td><td><span style="letter-spacing:0.526px;margin-right:-0.526px">34</span></td><td><span style="letter-spacing:0.132px;margin-right:-0.132px">14</span></td><td><span style="letter-spacing:-0.089px;margin-right:0.089px">1.1</span></td></tr>
<tr style="height:28px"><td><span style="letter-spacing:1.306px;margin-right:-1.306px">Mar</span></td><td><span style="letter-spacing:0.821px;margin-right:-0.821px">24</span></td><td><span style="letter-spacing:0.493px;margin-right:-0.493px">36</span></td><td><span style="letter-spacing:0.198px;margin-right:-0.198px">42</span></td><td><span style="letter-spacing:0.108px;margin-right:-0.108px">3.8</span></td></tr>
<tr style="height:28px"><td><span style="letter-spacing:0.542px;margin-right:-0.542px">Apr</span></td><td><span style="letter-spacing:0.132px;margin-right:-0.132px">25</span></td><td><span style="letter-spacing:0.493px;margin-right:-0.493px">37</span></td><td><span style="letter-spacing:0.789px;margin-right:-0.789px">66</span></td><td><span style="letter-spacing:0.419px;margin-right:-0.419px">6.6</span></td></tr>
<tr style="height:27px"><td><span style="letter-spacing:0.635px;margin-right:-0.635px">May</span></td><td><span style="letter-spacing:0.132px;margin-right:-0.132px">25</span></td><td><span style="letter-spacing:-0.163px;margin-right:0.163px">35</span></td><td><span style="letter-spacing:0.653px;margin-right:-0.653px">112</span></td><td><span style="letter-spacing:-0.004px;margin-right:0.004px">10.0</span></td></tr>
<tr style="height:28px"><td><span style="letter-spacing:-0.550px;margin-right:0.550px">Jun</span></td><td><span style="letter-spacing:0.132px;margin-right:-0.132px">25</span></td><td><span style="letter-spacing:0.526px;margin-right:-0.526px">34</span></td><td><span style="letter-spacing:0.116px;margin-right:-0.116px">129</span></td><td><span style="letter-spacing:0.562px;margin-right:-0.562px">11.9</span></td></tr>
<tr style="height:28px"><td><span style="letter-spacing:-0.550px;margin-right:0.550px">Jul</span></td><td><span style="letter-spacing:0.821px;margin-right:-0.821px">24</span></td><td><span style="letter-spacing:0.165px;margin-right:-0.165px">33</span></td><td><span style="letter-spacing:-0.212px;margin-right:0.212px">145</span></td><td><span style="letter-spacing:0.094px;margin-right:-0.094px">14.7</span></td></tr>
<tr style="height:28px"><td><span style="letter-spacing:0.066px;margin-right:-0.066px">Aug</span></td><td><span style="letter-spacing:0.132px;margin-right:-0.132px">25</span></td><td><span style="letter-spacing:0.165px;margin-right:-0.165px">33</span></td><td><span style="letter-spacing:-0.032px;margin-right:0.032px">160</span></td><td><span style="letter-spacing:0.562px;margin-right:-0.562px">11.9</span></td></tr>
<tr style="height:28px"><td><span style="letter-spacing:-0.550px;margin-right:0.550px">Sep</span></td><td><span style="letter-spacing:0.821px;margin-right:-0.821px">24</span></td><td><span style="letter-spacing:0.165px;margin-right:-0.165px">32</span></td><td><span style="letter-spacing:0.460px;margin-right:-0.460px">269</span></td><td><span style="letter-spacing:-0.015px;margin-right:0.015px">15.3</span></td></tr>
<tr style="height:27px"><td><span style="letter-spacing:0.219px;margin-right:-0.219px">Oct</span></td><td><span style="letter-spacing:0.821px;margin-right:-0.821px">24</span></td><td><span style="letter-spacing:0.165px;margin-right:-0.165px">32</span></td><td><span style="letter-spacing:0.116px;margin-right:-0.116px">186</span></td><td><span style="letter-spacing:-0.004px;margin-right:0.004px">13.0</span></td></tr>
<tr style="height:28px"><td><span style="letter-spacing:0.304px;margin-right:-0.304px">Nov</span></td><td><span style="letter-spacing:0.460px;margin-right:-0.460px">22</span></td><td><span style="letter-spacing:0.165px;margin-right:-0.165px">32</span></td><td><span style="letter-spacing:0.493px;margin-right:-0.493px">36</span></td><td><span style="letter-spacing:0.124px;margin-right:-0.124px">4.8</span></td></tr>
<tr style="height:28px"><td><span style="letter-spacing:-0.550px;margin-right:0.550px">Dec</span></td><td><span style="letter-spacing:0.493px;margin-right:-0.493px">20</span></td><td><span style="letter-spacing:0.165px;margin-right:-0.165px">31</span></td><td><span>7</span></td><td><span style="letter-spacing:0.075px;margin-right:-0.075px">1.6</span></td></tr>
<tr style="height:28px"><td><span style="letter-spacing:-0.395px;margin-right:0.395px">Averages</span></td><td><span style="letter-spacing:0.821px;margin-right:-0.821px">24</span></td><td><span style="letter-spacing:0.165px;margin-right:-0.165px">33</span></td><td><span style="letter-spacing:0.006px;margin-right:-0.006px">1,178</span></td><td><span style="letter-spacing:-0.004px;margin-right:0.004px">95.8</span></td></tr>
</tbody></table>
</main>
<footer class="abs ft" style="left:729.80px;top:1575.00px;font-size:19.11px;letter-spacing:0.141px;">Sources: Department of Meteorology(DOM)@2025</footer>
</body>
</html>
